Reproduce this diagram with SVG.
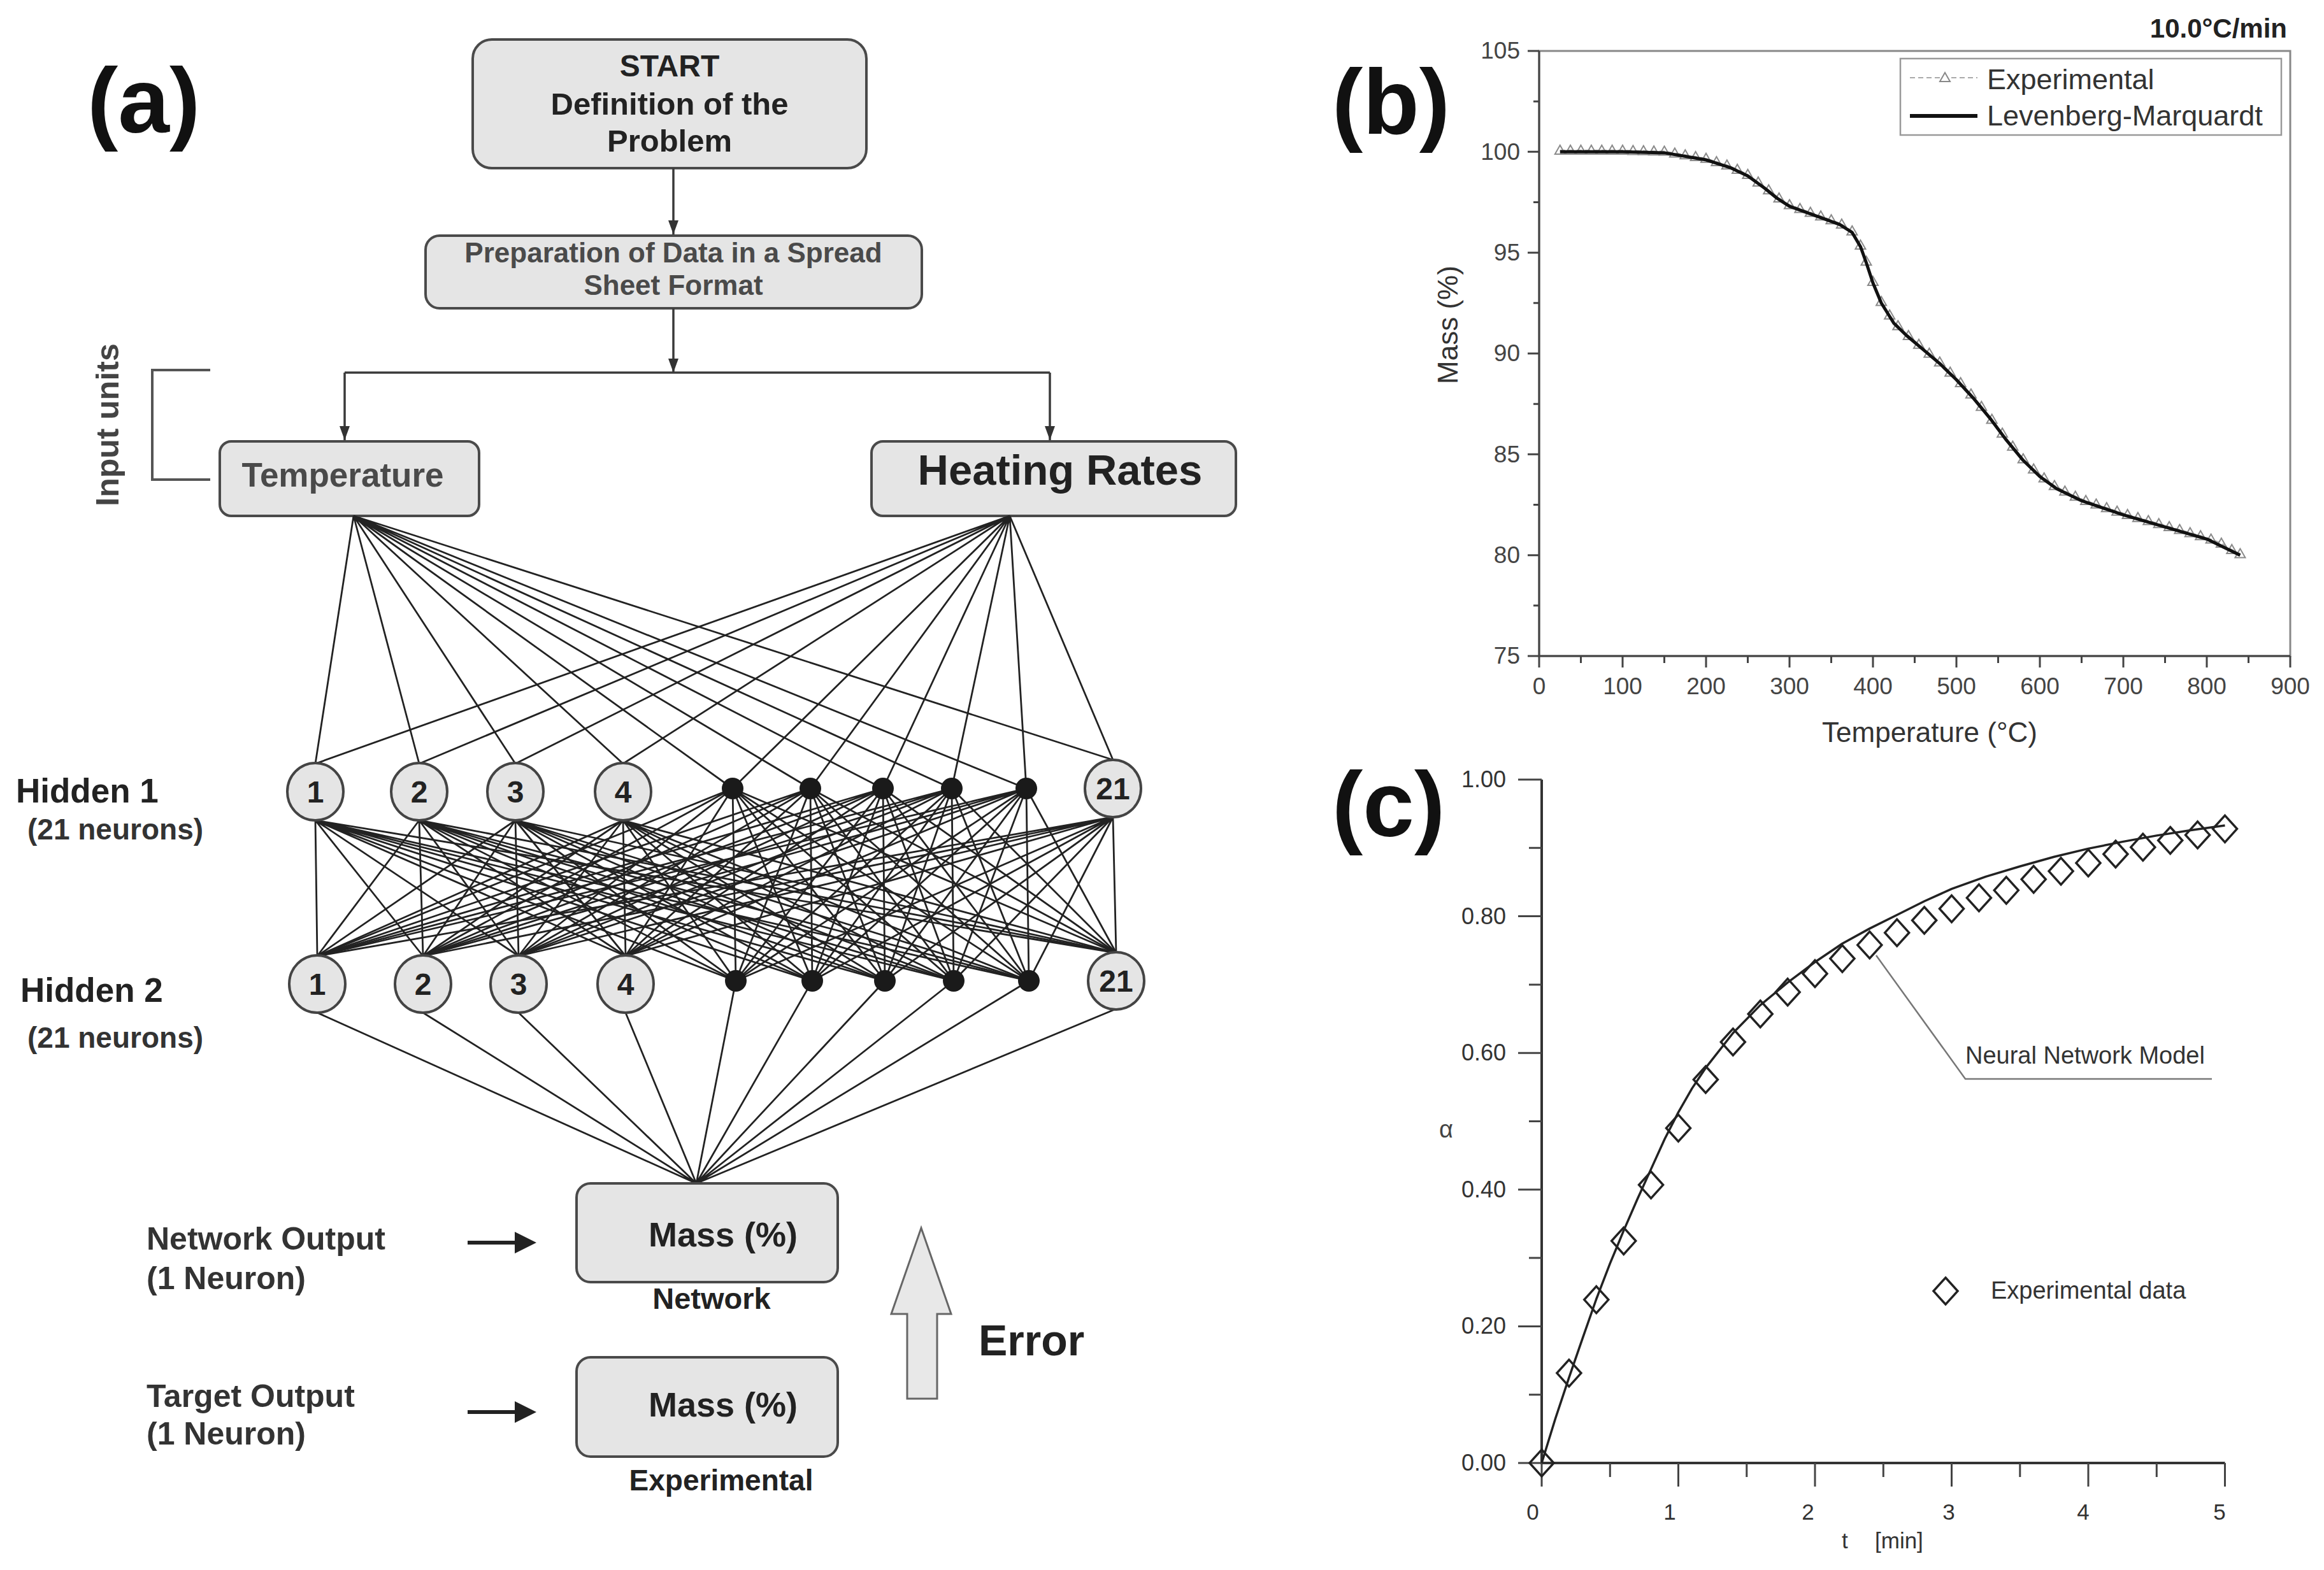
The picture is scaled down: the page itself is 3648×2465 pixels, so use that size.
<svg xmlns="http://www.w3.org/2000/svg" xmlns:xlink="http://www.w3.org/1999/xlink" width="3648" height="2465" viewBox="0 0 3648 2465">
<style>
.b{font-family:"Liberation Sans",Arial,sans-serif;font-weight:bold}
.r{font-family:"Liberation Sans",Arial,sans-serif}
.box{fill:#e5e5e5;stroke:#4a4a4a;stroke-width:4}
.nd{fill:#e5e5e5;stroke:#444;stroke-width:4}
.dot{fill:#1a1a1a}
.ln{stroke:#222;stroke-width:2.8;fill:none}
.fl{stroke:#3a3a3a;stroke-width:3.5;fill:none}
.ax{stroke:#444;stroke-width:3;fill:none}
.tk{stroke:#444;stroke-width:3;fill:none}
.ntx{font-family:"Liberation Sans",Arial,sans-serif;font-weight:bold;font-size:48px;fill:#222;text-anchor:middle}
</style>
<defs>
<marker id="ah" viewBox="0 0 10 10" refX="10" refY="5" markerWidth="22" markerHeight="16" markerUnits="userSpaceOnUse" orient="auto" preserveAspectRatio="none"><path d="M0,0 L10,5 L0,10 Z" fill="#333"/></marker>
<marker id="tri" viewBox="-10 -10 20 20" refX="0" refY="0" markerWidth="20" markerHeight="20" markerUnits="userSpaceOnUse"><path d="M0,-8 L8,6 L-8,6 Z" fill="none" stroke="#8a8a8a" stroke-width="2"/></marker>
<path id="dm" d="M0,-21 L19,0 L0,21 L-19,0 Z" fill="none" stroke="#222" stroke-width="3.5"/>
</defs>
<rect width="3648" height="2465" fill="#fff"/>

<!-- Panel (a) -->
<text class="b" x="137" y="208" font-size="145" fill="#111">(a)</text>

<g id="start">
<rect class="box" x="742" y="62" width="618" height="202" rx="30"/>
<text class="b" x="1051" y="120" font-size="48" fill="#222" text-anchor="middle">START</text>
<text class="b" x="1051" y="180" font-size="49" fill="#222" text-anchor="middle">Definition of the</text>
<text class="b" x="1051" y="238" font-size="49" fill="#222" text-anchor="middle">Problem</text>
</g>
<g id="prep">
<rect class="box" x="668" y="370" width="779" height="114" rx="22"/>
<text class="b" x="1057" y="412" font-size="44" fill="#4a4a4a" text-anchor="middle">Preparation of Data in a Spread</text>
<text class="b" x="1057" y="463" font-size="44" fill="#4a4a4a" text-anchor="middle">Sheet Format</text>
</g>
<g id="temperature">
<rect class="box" x="345" y="693" width="407" height="117" rx="18"/>
<text class="b" x="538" y="764" font-size="53" fill="#4a4a4a" text-anchor="middle">Temperature</text>
</g>
<g id="heating">
<rect class="box" x="1368" y="693" width="572" height="117" rx="18"/>
<text class="b" x="1664" y="761" font-size="67" fill="#222" text-anchor="middle">Heating Rates</text>
</g>
<g id="input-units">
<path d="M330,581 L239,581 L239,753 L330,753" fill="none" stroke="#555" stroke-width="4"/>
<text class="b" x="186" y="667" font-size="50" fill="#444" text-anchor="middle" transform="rotate(-90 186 667)">Input units</text>
</g>

<g id="labels-hidden">
<text class="b" x="25" y="1260" font-size="53" fill="#222">Hidden 1</text>
<text class="b" x="43" y="1318" font-size="46" fill="#333">(21 neurons)</text>
<text class="b" x="32" y="1573" font-size="53" fill="#222">Hidden 2</text>
<text class="b" x="43" y="1645" font-size="46" fill="#333">(21 neurons)</text>
</g>

<g id="connectors">
<path class="fl" d="M1057,264 L1057,368" marker-end="url(#ah)"/>
<path class="fl" d="M1057,484 L1057,585" marker-end="url(#ah)"/>
<path class="fl" d="M541,585 L1648,585"/>
<path class="fl" d="M541,585 L541,691" marker-end="url(#ah)"/>
<path class="fl" d="M1648,585 L1648,691" marker-end="url(#ah)"/>
<!-- input fans -->
<path class="ln" d="M555,810L495,1199M555,810L658,1199M555,810L809,1199M555,810L978,1199M555,810L1150,1238M555,810L1272,1238M555,810L1386,1238M555,810L1494,1238M555,810L1611,1238M555,810L1747,1193"/>
<path class="ln" d="M1585,810L495,1199M1585,810L658,1199M1585,810L809,1199M1585,810L978,1199M1585,810L1150,1238M1585,810L1272,1238M1585,810L1386,1238M1585,810L1494,1238M1585,810L1611,1238M1585,810L1747,1193"/>
<!-- hidden1 to hidden2 -->
<path class="ln" d="M495,1288L498,1501M495,1288L664,1501M495,1288L814,1501M495,1288L982,1501M495,1288L1155,1540M495,1288L1275,1540M495,1288L1389,1540M495,1288L1497,1540M495,1288L1615,1540M495,1288L1752,1496"/>
<path class="ln" d="M658,1288L498,1501M658,1288L664,1501M658,1288L814,1501M658,1288L982,1501M658,1288L1155,1540M658,1288L1275,1540M658,1288L1389,1540M658,1288L1497,1540M658,1288L1615,1540M658,1288L1752,1496"/>
<path class="ln" d="M809,1288L498,1501M809,1288L664,1501M809,1288L814,1501M809,1288L982,1501M809,1288L1155,1540M809,1288L1275,1540M809,1288L1389,1540M809,1288L1497,1540M809,1288L1615,1540M809,1288L1752,1496"/>
<path class="ln" d="M978,1288L498,1501M978,1288L664,1501M978,1288L814,1501M978,1288L982,1501M978,1288L1155,1540M978,1288L1275,1540M978,1288L1389,1540M978,1288L1497,1540M978,1288L1615,1540M978,1288L1752,1496"/>
<path class="ln" d="M1150,1238L498,1501M1150,1238L664,1501M1150,1238L814,1501M1150,1238L982,1501M1150,1238L1155,1540M1150,1238L1275,1540M1150,1238L1389,1540M1150,1238L1497,1540M1150,1238L1615,1540M1150,1238L1752,1496"/>
<path class="ln" d="M1272,1238L498,1501M1272,1238L664,1501M1272,1238L814,1501M1272,1238L982,1501M1272,1238L1155,1540M1272,1238L1275,1540M1272,1238L1389,1540M1272,1238L1497,1540M1272,1238L1615,1540M1272,1238L1752,1496"/>
<path class="ln" d="M1386,1238L498,1501M1386,1238L664,1501M1386,1238L814,1501M1386,1238L982,1501M1386,1238L1155,1540M1386,1238L1275,1540M1386,1238L1389,1540M1386,1238L1497,1540M1386,1238L1615,1540M1386,1238L1752,1496"/>
<path class="ln" d="M1494,1238L498,1501M1494,1238L664,1501M1494,1238L814,1501M1494,1238L982,1501M1494,1238L1155,1540M1494,1238L1275,1540M1494,1238L1389,1540M1494,1238L1497,1540M1494,1238L1615,1540M1494,1238L1752,1496"/>
<path class="ln" d="M1611,1238L498,1501M1611,1238L664,1501M1611,1238L814,1501M1611,1238L982,1501M1611,1238L1155,1540M1611,1238L1275,1540M1611,1238L1389,1540M1611,1238L1497,1540M1611,1238L1615,1540M1611,1238L1752,1496"/>
<path class="ln" d="M1747,1283L498,1501M1747,1283L664,1501M1747,1283L814,1501M1747,1283L982,1501M1747,1283L1155,1540M1747,1283L1275,1540M1747,1283L1389,1540M1747,1283L1497,1540M1747,1283L1615,1540M1747,1283L1752,1496"/>
<!-- hidden2 to output -->
<path class="ln" d="M498,1590L1093,1858M664,1590L1093,1858M814,1590L1093,1858M982,1590L1093,1858M1155,1540L1093,1858M1275,1540L1093,1858M1389,1540L1093,1858M1497,1540L1093,1858M1615,1540L1093,1858M1752,1584L1093,1858"/>
</g>

<g id="h1-n1"><ellipse class="nd" cx="495" cy="1243" rx="44" ry="45"/><text class="ntx" x="495" y="1260">1</text></g>
<g id="h1-n2"><ellipse class="nd" cx="658" cy="1243" rx="44" ry="45"/><text class="ntx" x="658" y="1260">2</text></g>
<g id="h1-n3"><ellipse class="nd" cx="809" cy="1243" rx="44" ry="45"/><text class="ntx" x="809" y="1260">3</text></g>
<g id="h1-n4"><ellipse class="nd" cx="978" cy="1243" rx="44" ry="45"/><text class="ntx" x="978" y="1260">4</text></g>
<g id="h1-d1"><circle class="dot" cx="1150" cy="1238" r="17"/></g>
<g id="h1-d2"><circle class="dot" cx="1272" cy="1238" r="17"/></g>
<g id="h1-d3"><circle class="dot" cx="1386" cy="1238" r="17"/></g>
<g id="h1-d4"><circle class="dot" cx="1494" cy="1238" r="17"/></g>
<g id="h1-d5"><circle class="dot" cx="1611" cy="1238" r="17"/></g>
<g id="h1-n21"><ellipse class="nd" cx="1747" cy="1238" rx="44" ry="45"/><text class="ntx" x="1747" y="1255">21</text></g>

<g id="h2-n1"><ellipse class="nd" cx="498" cy="1545" rx="44" ry="45"/><text class="ntx" x="498" y="1562">1</text></g>
<g id="h2-n2"><ellipse class="nd" cx="664" cy="1545" rx="44" ry="45"/><text class="ntx" x="664" y="1562">2</text></g>
<g id="h2-n3"><ellipse class="nd" cx="814" cy="1545" rx="44" ry="45"/><text class="ntx" x="814" y="1562">3</text></g>
<g id="h2-n4"><ellipse class="nd" cx="982" cy="1545" rx="44" ry="45"/><text class="ntx" x="982" y="1562">4</text></g>
<g id="h2-d1"><circle class="dot" cx="1155" cy="1540" r="17"/></g>
<g id="h2-d2"><circle class="dot" cx="1275" cy="1540" r="17"/></g>
<g id="h2-d3"><circle class="dot" cx="1389" cy="1540" r="17"/></g>
<g id="h2-d4"><circle class="dot" cx="1497" cy="1540" r="17"/></g>
<g id="h2-d5"><circle class="dot" cx="1615" cy="1540" r="17"/></g>
<g id="h2-n21"><ellipse class="nd" cx="1752" cy="1540" rx="44" ry="45"/><text class="ntx" x="1752" y="1557">21</text></g>

<g id="network-out">
<rect class="box" x="905" y="1858" width="410" height="155" rx="22"/>
<text class="b" x="1135" y="1957" font-size="54" fill="#222" text-anchor="middle">Mass (%)</text>
<text class="b" x="1117" y="2055" font-size="47" fill="#222" text-anchor="middle">Network</text>
</g>
<g id="target-out">
<rect class="box" x="905" y="2131" width="410" height="156" rx="22"/>
<text class="b" x="1135" y="2224" font-size="54" fill="#222" text-anchor="middle">Mass (%)</text>
<text class="b" x="1132" y="2340" font-size="46" fill="#222" text-anchor="middle">Experimental</text>
</g>
<g id="out-labels">
<text class="b" x="230" y="1962" font-size="50" fill="#333">Network Output</text>
<text class="b" x="230" y="2024" font-size="50" fill="#333">(1 Neuron)</text>
<text class="b" x="230" y="2209" font-size="50" fill="#333">Target Output</text>
<text class="b" x="230" y="2268" font-size="50" fill="#333">(1 Neuron)</text>
<path d="M734,1951 L814,1951" stroke="#222" stroke-width="6"/>
<polygon points="808,1934 842,1951 808,1968" fill="#222"/>
<path d="M734,2217 L814,2217" stroke="#222" stroke-width="6"/>
<polygon points="808,2200 842,2217 808,2234" fill="#222"/>
</g>
<g id="error">
<polygon points="1446,1928 1493,2063 1471,2063 1471,2196 1424,2196 1424,2063 1399,2063" fill="#e8e8e8" stroke="#666" stroke-width="3"/>
<text class="b" x="1536" y="2128" font-size="68" fill="#222">Error</text>
</g>

<!-- Panel (b) -->
<g id="panel-b">
<text class="b" x="2091" y="210" font-size="145" fill="#111">(b)</text>
<text class="b" x="3590" y="59" font-size="42" fill="#222" text-anchor="end">10.0°C/min</text>
<rect x="2416" y="80" width="1179" height="950" fill="none" stroke="#888" stroke-width="3"/>
<path class="ax" d="M2416,80 L2416,1030 L3595,1030"/>
<path class="tk" d="M2416,80h-18M2416,238.3h-18M2416,396.7h-18M2416,555h-18M2416,713.3h-18M2416,871.7h-18M2416,1030h-18M2416,159.2h-9M2416,317.5h-9M2416,475.8h-9M2416,634.2h-9M2416,792.5h-9M2416,950.8h-9"/>
<path class="tk" d="M2416,1030v18M2547,1030v18M2678,1030v18M2809,1030v18M2940,1030v18M3071,1030v18M3202,1030v18M3333,1030v18M3464,1030v18M3595,1030v18M2481.5,1030v11M2612.5,1030v11M2743.5,1030v11M2874.5,1030v11M3005.5,1030v11M3136.5,1030v11M3267.5,1030v11M3398.5,1030v11M3529.5,1030v11"/>
<g class="r" font-size="37" fill="#444" text-anchor="end">
<text x="2386" y="92">105</text><text x="2386" y="251">100</text><text x="2386" y="409">95</text><text x="2386" y="567">90</text><text x="2386" y="726">85</text><text x="2386" y="884">80</text><text x="2386" y="1042">75</text>
</g>
<g class="r" font-size="37" fill="#444" text-anchor="middle">
<text x="2416" y="1090">0</text><text x="2547" y="1090">100</text><text x="2678" y="1090">200</text><text x="2809" y="1090">300</text><text x="2940" y="1090">400</text><text x="3071" y="1090">500</text><text x="3202" y="1090">600</text><text x="3333" y="1090">700</text><text x="3464" y="1090">800</text><text x="3595" y="1090">900</text>
</g>
<text class="r" x="3029" y="1165" font-size="44" fill="#333" text-anchor="middle">Temperature (°C)</text>
<text class="r" x="2288" y="510" font-size="44" fill="#333" text-anchor="middle" transform="rotate(-90 2288 510)">Mass (%)</text>
<polyline fill="none" stroke="#aaa" stroke-width="2" stroke-dasharray="8 5" marker-start="url(#tri)" marker-mid="url(#tri)" marker-end="url(#tri)" points="2448.8,236 2465.1,236 2481.5,236 2497.9,236 2514.3,236 2530.6,236 2547,236 2563.4,236.4 2579.8,236.8 2596.1,237.2 2612.5,237.6 2628.9,240.4 2645.3,243.2 2661.6,246 2678,248.7 2694.4,254 2710.8,259.3 2727.1,266.1 2743.5,274 2759.9,285.9 2776.3,298.3 2792.6,311 2809,321.5 2825.4,327.4 2841.8,333.4 2858.1,339.3 2874.5,345.2 2890.9,352.1 2907.3,362.7 2920.4,384.9 2929.5,410.2 2940,441.9 2953.1,473.5 2966.2,494.7 2979.3,511.5 2995.7,527 3012,540.8 3028.4,554.7 3044.8,568.5 3061.2,584.4 3077.6,601 3093.9,618.8 3110.3,638.2 3126.7,658.4 3143.1,680.2 3159.4,700.7 3175.8,720.5 3192.2,736.4 3208.6,750.6 3224.9,762.5 3241.3,771.2 3257.7,779.2 3274.1,786.1 3290.4,791.6 3306.8,797.2 3323.2,802.7 3339.6,807.9 3355.9,812.7 3372.3,817.4 3388.7,822.2 3405.1,826.9 3421.4,831.6 3437.8,836.4 3454.2,841.2 3470.6,846.6 3486.9,852.9 3503.3,863 3516.4,869.4"/>
<polyline fill="none" stroke="#111" stroke-width="5" stroke-linejoin="round" points="2448.8,238.3 2547,238.3 2612.5,239.9 2678,251 2717.3,263.7 2743.5,276.3 2769.7,295.3 2789.4,311.2 2809,323.8 2835.2,333.3 2861.4,342.8 2887.6,352.3 2907.3,365 2920.4,387.2 2929.5,412.5 2940,444.2 2953.1,475.8 2972.8,507.5 2992.4,526.5 3018.6,548.7 3044.8,570.8 3071,596.2 3097.2,624.7 3123.4,656.3 3149.6,691.2 3175.8,722.8 3202,748.2 3228.2,767.2 3267.5,786.2 3333,808.3 3398.5,827.3 3464,846.3 3516.4,871.7"/>
<g id="legend-b">
<rect x="2983" y="92" width="598" height="120" fill="#fff" stroke="#999" stroke-width="2.5"/>
<path d="M2998,122 H3104" stroke="#aaa" stroke-width="2" stroke-dasharray="8 5"/>
<path d="M3053,114 L3061,128 L3045,128 Z" fill="#fff" stroke="#888" stroke-width="2"/>
<text class="r" x="3119" y="140" font-size="45" fill="#333">Experimental</text>
<path d="M2998,182 H3104" stroke="#111" stroke-width="6"/>
<text class="r" x="3119" y="197" font-size="45" fill="#333">Levenberg-Marquardt</text>
</g>
</g>

<!-- Panel (c) -->
<g id="panel-c">
<text class="b" x="2091" y="1313" font-size="145" fill="#111">(c)</text>
<path d="M2420,1224 L2420,2297 L3492.5,2297" fill="none" stroke="#333" stroke-width="4"/>
<path class="tk" d="M2420,1224h-37M2420,1438.6h-37M2420,1653.2h-37M2420,1867.8h-37M2420,2082.4h-37M2420,2297h-37M2420,1331.3h-20M2420,1545.9h-20M2420,1760.5h-20M2420,1975.1h-20M2420,2189.7h-20"/>
<path class="tk" d="M2420,2297v37M2634.5,2297v37M2849,2297v37M3063.5,2297v37M3278,2297v37M3492.5,2297v37M2527.3,2297v22M2741.8,2297v22M2956.3,2297v22M3170.8,2297v22M3385.3,2297v22"/>
<g class="r" font-size="36" fill="#333" text-anchor="end">
<text x="2364" y="1236">1.00</text><text x="2364" y="1451">0.80</text><text x="2364" y="1665">0.60</text><text x="2364" y="1880">0.40</text><text x="2364" y="2094">0.20</text><text x="2364" y="2309">0.00</text>
</g>
<g class="r" font-size="35" fill="#333" text-anchor="middle">
<text x="2406" y="2386">0</text><text x="2621" y="2386">1</text><text x="2838" y="2386">2</text><text x="3059" y="2386">3</text><text x="3270" y="2386">4</text><text x="3484" y="2386">5</text>
</g>
<text class="r" x="2891" y="2431" font-size="35" fill="#333">t</text>
<text class="r" x="2943" y="2431" font-size="35" fill="#333">[min]</text>
<text class="r" x="2270" y="1786" font-size="38" fill="#444" text-anchor="middle">α</text>
<polyline fill="none" stroke="#222" stroke-width="3.5" stroke-linejoin="round" points="2420,2297 2441.5,2227.3 2462.9,2162.9 2484.4,2100.6 2505.8,2039.5 2527.3,1983.7 2548.7,1932.2 2570.2,1882.8 2591.6,1835.6 2613.1,1788.3 2634.5,1746.4 2656,1708.9 2677.4,1676.7 2720.3,1622 2763.2,1578.1 2806.1,1542.7 2849,1510.5 2891.9,1481.5 2934.8,1457.9 2977.7,1436.5 3020.6,1415 3063.5,1395.7 3117.1,1376.4 3170.8,1360.3 3224.4,1345.3 3278,1332.4 3331.6,1321.6 3385.3,1311.9 3438.9,1303.4 3492.5,1295.9"/>
<g id="exp-data">
<use xlink:href="#dm" x="2420" y="2297"/><use xlink:href="#dm" x="2462.9" y="2155.8"/><use xlink:href="#dm" x="2505.8" y="2040.6"/><use xlink:href="#dm" x="2548.7" y="1948.3"/><use xlink:href="#dm" x="2591.6" y="1860.3"/><use xlink:href="#dm" x="2634.5" y="1771.2"/><use xlink:href="#dm" x="2677.4" y="1695"/><use xlink:href="#dm" x="2720.3" y="1636"/><use xlink:href="#dm" x="2763.2" y="1592"/><use xlink:href="#dm" x="2806.1" y="1557.7"/><use xlink:href="#dm" x="2849" y="1528.7"/><use xlink:href="#dm" x="2891.9" y="1505.1"/><use xlink:href="#dm" x="2934.8" y="1483.7"/><use xlink:href="#dm" x="2977.7" y="1464.4"/><use xlink:href="#dm" x="3020.6" y="1445"/><use xlink:href="#dm" x="3063.5" y="1426.8"/><use xlink:href="#dm" x="3106.4" y="1409.7"/><use xlink:href="#dm" x="3149.3" y="1397.8"/><use xlink:href="#dm" x="3192.2" y="1380.6"/><use xlink:href="#dm" x="3235.1" y="1367.8"/><use xlink:href="#dm" x="3278" y="1354.9"/><use xlink:href="#dm" x="3320.9" y="1341"/><use xlink:href="#dm" x="3363.8" y="1330.2"/><use xlink:href="#dm" x="3406.7" y="1319.5"/><use xlink:href="#dm" x="3449.6" y="1310.9"/><use xlink:href="#dm" x="3492.5" y="1301.3"/>
</g>
<path d="M2945,1500 L3085,1694 L3472,1694" fill="none" stroke="#777" stroke-width="2.5"/>
<text class="r" x="3085" y="1670" font-size="38" fill="#333">Neural Network Model</text>
<use xlink:href="#dm" x="3054" y="2027"/>
<text class="r" x="3125" y="2039" font-size="38" fill="#333">Experimental data</text>
</g>
</svg>
